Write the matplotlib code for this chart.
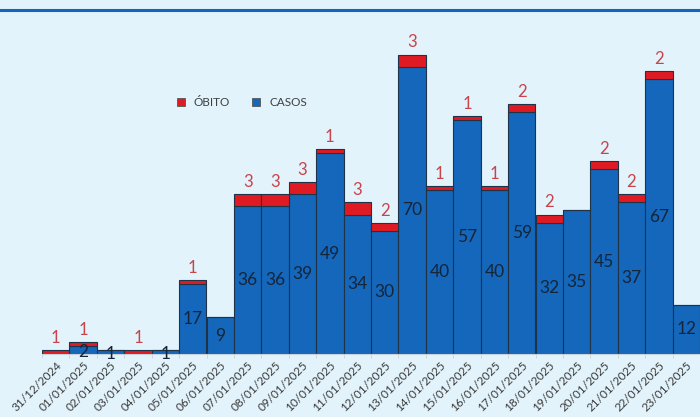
import matplotlib.pyplot as plt
import numpy as np
from matplotlib.lines import Line2D

# Dates and counts
datas = ["31/12/2024", "01/01/2025", "02/01/2025", "03/01/2025", "04/01/2025",
         "05/01/2025", "06/01/2025", "07/01/2025", "08/01/2025", "09/01/2025",
         "10/01/2025", "11/01/2025", "12/01/2025", "13/01/2025", "14/01/2025",
         "15/01/2025", "16/01/2025", "17/01/2025", "18/01/2025", "19/01/2025",
         "20/01/2025", "21/01/2025", "22/01/2025", "23/01/2025"]
casos = [0, 2, 1, 0, 1, 17, 9, 36, 36, 39, 49, 34, 30, 70, 40, 57, 40, 59, 32, 35, 45, 37, 67, 12]
obito = [1, 1, 0, 1, 0, 1, 0, 3, 3, 3, 1, 3, 2, 3, 1, 1, 1, 2, 2, 0, 2, 2, 2, 0]

bg = '#E2F3FB'
azul = '#1467BA'
vermelho = '#E01A22'
borda = '#1E3348'

plt.rcParams['font.family'] = ['Lato', 'DejaVu Sans']

fig = plt.figure(figsize=(7, 4.17), dpi=100, facecolor=bg)
ax = fig.add_axes([0.06, 0.151, 0.94, 0.787])
ax.set_facecolor(bg)

x = np.arange(len(datas))
ax.bar(x, casos, width=1.0, color=azul, edgecolor=borda, linewidth=0.8, label='CASOS', zorder=2)
ax.bar(x, obito, width=1.0, bottom=casos, color=vermelho, edgecolor=borda, linewidth=0.8,
       label='ÓBITO', zorder=2)

# Labels: cases centred in the bar, deaths above the stack
for i in range(len(datas)):
    if casos[i] > 0:
        ax.text(x[i], casos[i] / 2 if casos[i] > 4 else casos[i] / 2 - 0.4, str(casos[i]),
                ha='center', va='center', fontsize=12.5, color='#15253A', zorder=3)
    if obito[i] > 0:
        ax.text(x[i], casos[i] + obito[i] + 1.0, str(obito[i]), ha='center', va='bottom',
                fontsize=12, color='#C8434A', zorder=3)

ax.set_xlim(-0.5, len(datas) - 0.5)
ax.set_ylim(0, 80)
ax.set_yticks([])
for s in ['top', 'right', 'left']:
    ax.spines[s].set_visible(False)
ax.spines['bottom'].set_color('#C8D2DA')
ax.spines['bottom'].set_linewidth(0.8)

ax.set_xticks(x)
ax.set_xticklabels(datas, rotation=45, ha='right', rotation_mode='anchor',
                   fontsize=8.5, color='#3A3A3A')
ax.tick_params(axis='x', which='major', length=0, pad=4)
ax.set_xticks(np.arange(-0.5, len(datas), 1.0), minor=True)
ax.tick_params(axis='x', which='minor', length=3, color='#C8D2DA')

# Legend (ÓBITO first)
handles = [Line2D([], [], marker='s', linestyle='', markersize=5.5, markerfacecolor=vermelho,
                  markeredgecolor='#555555', markeredgewidth=0.6),
           Line2D([], [], marker='s', linestyle='', markersize=5.5, markerfacecolor=azul,
                  markeredgecolor='#555555', markeredgewidth=0.6)]
fig.legend(handles, ['ÓBITO', 'CASOS'], loc='center', bbox_to_anchor=(0.34, 0.753), ncol=2,
           frameon=False, fontsize=8.5, handletextpad=0.1, columnspacing=1.2,
           labelcolor='#404040')

# Blue rule at the top of the card
fig.add_artist(Line2D([0, 1], [0.975, 0.975], color='#1565C0', linewidth=2.2,
                      transform=fig.transFigure))

fig.savefig('out.png', dpi=100, facecolor=bg)
